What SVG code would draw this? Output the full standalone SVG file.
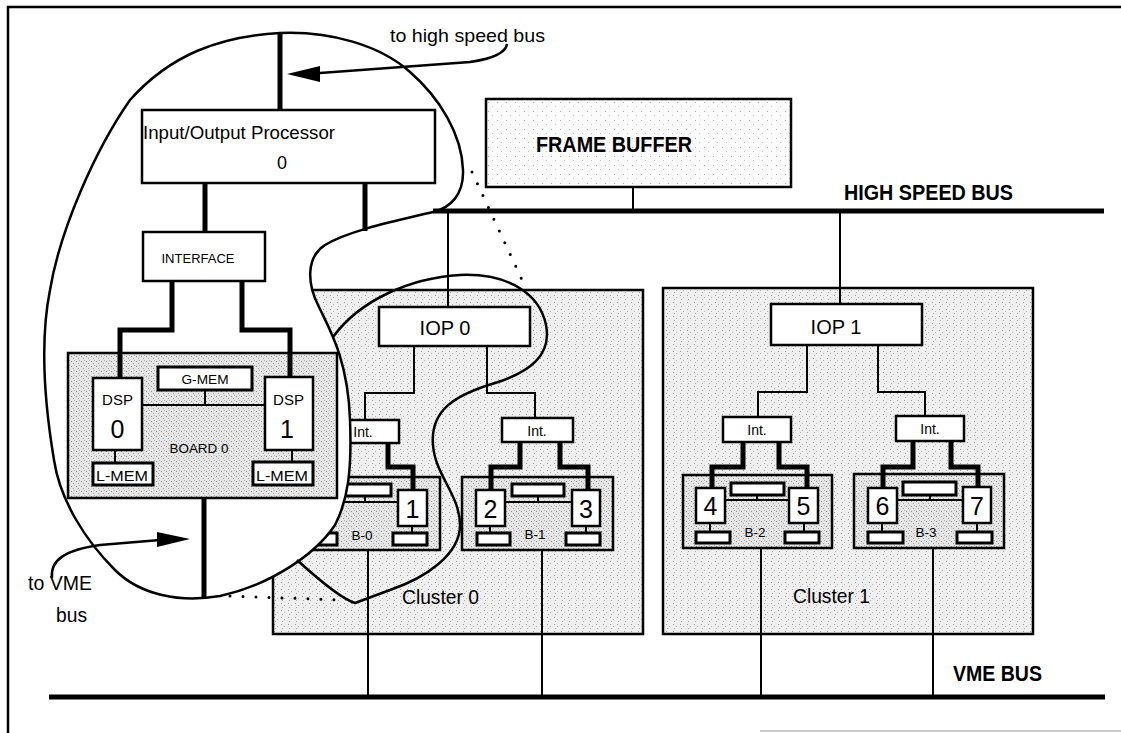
<svg xmlns="http://www.w3.org/2000/svg" width="1121" height="733" viewBox="0 0 1121 733">
<defs>
<pattern id="pc" width="7" height="7" patternUnits="userSpaceOnUse">
<rect width="7" height="7" fill="#efefef"/>
<rect x="1" y="1" width="1" height="1" fill="#999"/>
<rect x="4" y="3" width="1" height="1" fill="#b3b3b3"/>
<rect x="2" y="5" width="1" height="1" fill="#a8a8a8"/>
</pattern>
<pattern id="pb" width="5" height="5" patternUnits="userSpaceOnUse">
<rect width="5" height="5" fill="#e6e6e6"/>
<rect x="1" y="1" width="1" height="1" fill="#8c8c8c"/>
<rect x="3" y="3" width="1" height="1" fill="#a0a0a0"/>
<rect x="4" y="0" width="1" height="1" fill="#b5b5b5"/>
</pattern>
<pattern id="pf" width="9" height="9" patternUnits="userSpaceOnUse">
<rect width="9" height="9" fill="#fbfbfb"/>
<rect x="2" y="3" width="1" height="1" fill="#b0b0b0"/>
<rect x="6" y="7" width="1" height="1" fill="#c8c8c8"/>
</pattern>
<style>
text{font-family:"Liberation Sans",Arial,sans-serif;fill:#000}
.bx{fill:#fff;stroke:#000;stroke-width:2.5}
.bar{fill:#fff;stroke:#000;stroke-width:3}
.cl{fill:url(#pc);stroke:#000;stroke-width:2.5}
.bd{fill:url(#pb);stroke:#000;stroke-width:2.5}
.thin{fill:none;stroke:#000;stroke-width:2}
.thick{fill:none;stroke:#000;stroke-width:5;stroke-linejoin:miter}
.bus{fill:none;stroke:#000;stroke-width:5}
.blob{fill:none;stroke:#000;stroke-width:2.5;stroke-linejoin:round}
.dots{fill:none;stroke:#000;stroke-width:3;stroke-linecap:round;stroke-dasharray:0 13}
.lb{font-weight:bold}
</style>
</defs>
<rect width="1121" height="733" fill="#fff"/>
<g id="frame" fill="none" stroke="#000" stroke-width="2.5">
<path d="M8,733 V7 H1121"/>
<path d="M760,731 H1121" stroke="#bbb" stroke-width="1.5"/>
</g>
<g id="cluster0">
<rect class="cl" x="273" y="290" width="370" height="344"/>
<text x="402" y="604" font-size="20" textLength="77" lengthAdjust="spacingAndGlyphs">Cluster 0</text>
</g>
<g id="cluster1">
<rect class="cl" x="663" y="288" width="370" height="346"/>
<text x="793" y="603" font-size="20" textLength="77" lengthAdjust="spacingAndGlyphs">Cluster 1</text>
</g>
<g id="frame-buffer">
<rect x="486" y="99" width="305" height="88" fill="url(#pf)" stroke="#000" stroke-width="2.5"/>
<text class="lb" x="536" y="152" font-size="22" textLength="156" lengthAdjust="spacingAndGlyphs">FRAME BUFFER</text>
</g>
<g id="board-b0">
<rect class="bd" x="289" y="477" width="151" height="73"/>
<rect class="bx" x="303" y="490" width="29" height="36"/>
<rect class="bx" x="398" y="490" width="29" height="36"/>
<rect class="bar" x="339" y="484" width="52" height="12"/>
<rect class="bar" x="304" y="533" width="33" height="12"/>
<rect class="bar" x="393" y="533" width="34" height="12"/>
<path class="thin" d="M365,496 V502 M332,502 H398 M412,526 V533" stroke-width="1.5"/>
<text x="412.5" y="518" font-size="25" text-anchor="middle">1</text>
<text x="362" y="540" font-size="13.5" text-anchor="middle">B-0</text>
</g>
<g id="int-0a">
<rect class="bx" x="328" y="420" width="71" height="23"/>
<text x="363" y="437" font-size="14" text-anchor="middle">Int.</text>
</g>
<g id="highlight-loop">
<path d="M280,33 C330,31 380,45 410,72 C440,98 462,135 463,170 C464,195 450,208 433,212 C400,220 350,230 325,245 C305,258 308,285 318,305 C330,330 348,360 350,420 C352,470 348,500 335,525 C315,555 270,585 220,596 C180,603 140,595 115,570 C85,540 60,500 54,460 C44,400 40,340 50,290 C60,230 95,150 130,100 C170,55 220,36 280,33 Z" fill="#fff" stroke="#000" stroke-width="2.5"/>
<path class="blob" d="M333,337 C360,300 410,278 460,275 C510,273 540,295 546,325 C552,355 530,372 495,383 C455,395 430,410 433,445 C435,475 460,495 460,525 C460,555 425,578 390,590 L355,603 C345,600 330,590 297,560"/>
</g>
<g id="iop-main">
<rect class="bx" x="142" y="110" width="293" height="73"/>
<text x="143" y="139" font-size="18" textLength="192" lengthAdjust="spacingAndGlyphs">Input/Output Processor</text>
<text x="282" y="169" font-size="18" text-anchor="middle">0</text>
</g>
<g id="interface">
<rect class="bx" x="143" y="232" width="122" height="49"/>
<text x="198" y="263" font-size="12.5" text-anchor="middle" textLength="73" lengthAdjust="spacingAndGlyphs">INTERFACE</text>
</g>
<g id="board-0">
<rect class="bd" x="68" y="353" width="269" height="145"/>
<rect class="bx" x="93" y="378" width="49" height="72"/>
<rect class="bx" x="265" y="377" width="48" height="73"/>
<rect class="bar" x="158" y="367" width="94" height="23"/>
<rect class="bar" x="93" y="463" width="60" height="22"/>
<rect class="bar" x="253" y="462" width="60" height="23"/>
<path class="thin" d="M205,390 V405 M142,405 H265 M115,450 V463 M292,450 V462"/>
<text x="205" y="384" font-size="13.5" text-anchor="middle" textLength="47" lengthAdjust="spacingAndGlyphs">G-MEM</text>
<text x="117.5" y="405" font-size="15" text-anchor="middle">DSP</text>
<text x="117.5" y="438" font-size="25" text-anchor="middle">0</text>
<text x="288.5" y="405" font-size="15" text-anchor="middle">DSP</text>
<text x="287" y="438" font-size="25" text-anchor="middle">1</text>
<text x="199" y="453" font-size="13.5" text-anchor="middle" textLength="59" lengthAdjust="spacingAndGlyphs">BOARD 0</text>
<text x="96" y="481" font-size="15" textLength="52" lengthAdjust="spacingAndGlyphs">L-MEM</text>
<text x="256" y="481" font-size="15" textLength="52" lengthAdjust="spacingAndGlyphs">L-MEM</text>
</g>
<g id="iop-0">
<rect class="bx" x="379" y="307" width="151" height="39"/>
<text x="445" y="335" font-size="20" text-anchor="middle">IOP 0</text>
</g>
<g id="iop-1">
<rect class="bx" x="771" y="304" width="151" height="41"/>
<text x="836" y="334" font-size="20" text-anchor="middle">IOP 1</text>
</g>
<g id="int-0b">
<rect class="bx" x="502" y="418" width="71" height="24"/>
<text x="537" y="436" font-size="14" text-anchor="middle">Int.</text>
</g>
<g id="int-1a">
<rect class="bx" x="723" y="417" width="68" height="25"/>
<text x="757" y="435" font-size="14" text-anchor="middle">Int.</text>
</g>
<g id="int-1b">
<rect class="bx" x="896" y="416" width="68" height="25"/>
<text x="930" y="434" font-size="14" text-anchor="middle">Int.</text>
</g>
<g id="board-b1">
<rect class="bd" x="462" y="477" width="151" height="73"/>
<rect class="bx" x="476" y="490" width="29" height="36"/>
<rect class="bx" x="572" y="490" width="28" height="36"/>
<rect class="bar" x="512" y="484" width="52" height="12"/>
<rect class="bar" x="477" y="533" width="33" height="12"/>
<rect class="bar" x="566" y="533" width="34" height="12"/>
<path class="thin" d="M538,496 V502 M505,502 H572 M490,526 V533 M586,526 V533" stroke-width="1.5"/>
<text x="490.5" y="518" font-size="25" text-anchor="middle">2</text>
<text x="586" y="518" font-size="25" text-anchor="middle">3</text>
<text x="535" y="539" font-size="13.5" text-anchor="middle">B-1</text>
</g>
<g id="board-b2">
<rect class="bd" x="683" y="475" width="149" height="73"/>
<rect class="bx" x="696" y="488" width="29" height="35"/>
<rect class="bx" x="789" y="488" width="29" height="35"/>
<rect class="bar" x="731" y="483" width="53" height="12"/>
<rect class="bar" x="696" y="532" width="34" height="11"/>
<rect class="bar" x="785" y="532" width="34" height="11"/>
<path class="thin" d="M757,495 V500 M725,500 H789 M710,523 V532 M804,523 V532" stroke-width="1.5"/>
<text x="710.5" y="515" font-size="25" text-anchor="middle">4</text>
<text x="803.5" y="515" font-size="25" text-anchor="middle">5</text>
<text x="755" y="537" font-size="13.5" text-anchor="middle">B-2</text>
</g>
<g id="board-b3">
<rect class="bd" x="854" y="474" width="150" height="74"/>
<rect class="bx" x="868" y="488" width="29" height="35"/>
<rect class="bx" x="963" y="487" width="28" height="36"/>
<rect class="bar" x="903" y="482" width="53" height="13"/>
<rect class="bar" x="868" y="532" width="35" height="11"/>
<rect class="bar" x="957" y="532" width="35" height="11"/>
<path class="thin" d="M930,495 V500 M897,500 H963 M882,523 V532 M977,523 V532" stroke-width="1.5"/>
<text x="882.5" y="515" font-size="25" text-anchor="middle">6</text>
<text x="977" y="515" font-size="25" text-anchor="middle">7</text>
<text x="926" y="537" font-size="13.5" text-anchor="middle">B-3</text>
</g>
<g id="connectors">
<path class="bus" d="M433,211 H1104" stroke-width="4.5"/>
<path class="bus" d="M49,697 H1105"/>
<path class="thin" d="M633,187 V211"/>
<path class="thin" d="M448,211 V307"/>
<path class="thin" d="M840,211 V304"/>
<path class="thin" d="M414,346 V393 H365 V420"/>
<path class="thin" d="M487,346 V393 H535 V418"/>
<path class="thin" d="M807,345 V392 H758 V417"/>
<path class="thin" d="M878,345 V392 H925 V416"/>
<path class="thin" d="M368,550 V697"/>
<path class="thin" d="M542,550 V697"/>
<path class="thin" d="M761,548 V697"/>
<path class="thin" d="M933,548 V697"/>
<path class="thick" d="M280,34 V110"/>
<path class="thick" d="M205,183 V232"/>
<path class="thick" d="M365,183 V231"/>
<path class="thick" d="M172,281 V330 H120 V378"/>
<path class="thick" d="M242,281 V330 H290 V377"/>
<path class="thick" d="M204,498 V598" stroke-width="4"/>
<path class="thick" d="M388,443 V467 H413 V490"/>
<path class="thick" d="M520,442 V467 H491 V490"/>
<path class="thick" d="M560,442 V467 H588 V490"/>
<path class="thick" d="M743,442 V467 H712 V488"/>
<path class="thick" d="M779,442 V467 H807 V488"/>
<path class="thick" d="M913,441 V467 H883 V488"/>
<path class="thick" d="M951,441 V467 H978 V487"/>
<path class="dots" d="M472,172 L523,282"/>
<path class="dots" d="M230,596 L340,600"/>
<path d="M507,44 Q505,57 470,62 L320,73" fill="none" stroke="#000" stroke-width="2.5"/>
<polygon points="287,74 320,66 320,82" fill="#000"/>
<path d="M52,578 C50,560 65,550 100,545 L160,540" fill="none" stroke="#000" stroke-width="2.5"/>
<polygon points="190,539 157,532 157,547" fill="#000"/>
</g>
<g id="labels">
<text x="390" y="42" font-size="19" textLength="155" lengthAdjust="spacingAndGlyphs">to high speed bus</text>
<text class="lb" x="844" y="200" font-size="22" textLength="169" lengthAdjust="spacingAndGlyphs">HIGH SPEED BUS</text>
<text class="lb" x="953" y="681" font-size="22" textLength="89" lengthAdjust="spacingAndGlyphs">VME BUS</text>
<text x="28" y="590" font-size="20" textLength="64" lengthAdjust="spacingAndGlyphs">to VME</text>
<text x="56" y="622" font-size="20" textLength="31" lengthAdjust="spacingAndGlyphs">bus</text>
</g>
</svg>
